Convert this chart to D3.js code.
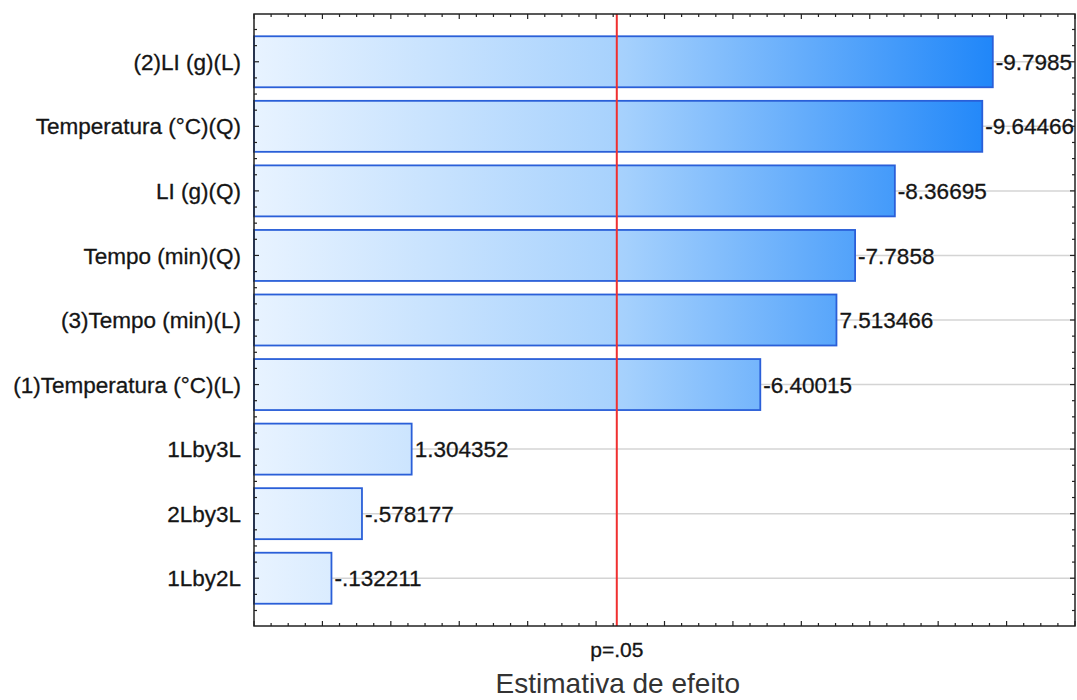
<!DOCTYPE html>
<html><head><meta charset="utf-8">
<script src="https://cdn.jsdelivr.net/npm/d3@7"></script>
<style>body{margin:0;background:#fff}svg{display:block}</style>
</head><body>
<svg id="chart" width="1077" height="700"></svg>
<script>
const categories = ["(2)LI (g)(L)","Temperatura (°C)(Q)","LI (g)(Q)","Tempo (min)(Q)","(3)Tempo (min)(L)","(1)Temperatura (°C)(L)","1Lby3L","2Lby3L","1Lby2L"];
const effects = [-9.7985,-9.64466,-8.36695,-7.7858,7.513466,-6.40015,1.304352,-0.578177,-0.132211];
const effectLabels = ["-9.7985","-9.64466","-8.36695","-7.7858","7.513466","-6.40015","1.304352","-.578177","-.132211"];
const pValueLine = 4.302653;
const pLabel = "p=.05";
const xTitle = "Estimativa de efeito";

const svg = d3.select("#chart");
const L = 254, R = 1075, T = 14, B = 626;
const FONT = "Liberation Sans, Arial, sans-serif";
const x = d3.scaleLinear().domain([-1, 11]).range([L, R]);
const y = d3.scaleLinear().domain([-0.74, categories.length - 0.26]).range([T, B]);
const bh = 0.79 * (y(1) - y(0));

const defs = svg.append("defs");
const grad = defs.append("linearGradient").attr("id","g").attr("gradientUnits","userSpaceOnUse")
  .attr("x1", L).attr("x2", R).attr("y1",0).attr("y2",0);
grad.append("stop").attr("offset","0").attr("stop-color","#e8f3ff");
grad.append("stop").attr("offset","0.45").attr("stop-color","#a6d1fd");
grad.append("stop").attr("offset","1").attr("stop-color","#0276f8");

// grid lines
svg.append("g").selectAll("line").data(categories).join("line")
  .attr("x1", L).attr("x2", R).attr("y1", (d,i)=>y(i)).attr("y2",(d,i)=>y(i))
  .attr("stroke","#d4d4d4").attr("stroke-width",1.5);

// bars
svg.append("g").selectAll("rect").data(effects).join("rect")
  .attr("x", x(-1)).attr("y",(d,i)=>y(i)-bh/2)
  .attr("width", d=>x(Math.abs(d)) - x(-1)).attr("height", bh)
  .attr("fill","url(#g)").attr("stroke","#2a5fd8").attr("stroke-width",1.8);

// value labels
svg.append("g").selectAll("text").data(effects).join("text")
  .attr("x", d=>x(Math.abs(d))+3).attr("y",(d,i)=>y(i))
  .attr("dy","0.36em").attr("font-family",FONT)
  .attr("font-size",22.5).attr("fill","#151515").attr("stroke","#151515").attr("stroke-width",0.3)
  .text((d,i)=>effectLabels[i]);

// p line
svg.append("line").attr("x1",x(pValueLine)).attr("x2",x(pValueLine)).attr("y1",T).attr("y2",B)
  .attr("stroke","#f03030").attr("stroke-width",2);

// axes (ticks inward)
const minor = d3.range(-1, 11.001, 0.25);
const major = d3.range(-1, 11.001, 1);
const isMajor = d => major.some(m=>Math.abs(m-d)<1e-9);
const ax = svg.append("g").attr("stroke","#222");
ax.selectAll(".bt").data(minor).join("line").attr("x1",d=>x(d)).attr("x2",d=>x(d))
  .attr("y1",B).attr("y2",d=>B-(isMajor(d)?5:3)).attr("stroke-width",1.2);
ax.selectAll(".tt").data(minor).join("line").attr("x1",d=>x(d)).attr("x2",d=>x(d))
  .attr("y1",T).attr("y2",d=>T+(isMajor(d)?5:3)).attr("stroke-width",1.2);
const yminor = d3.range(-0.75, categories.length - 0.25 + 0.001, 0.25).filter(v=>y(v)>=T-0.5 && y(v)<=B+0.5);
ax.selectAll(".lt").data(yminor).join("line").attr("y1",d=>y(d)).attr("y2",d=>y(d))
  .attr("x1",L).attr("x2",d=>L+(Number.isInteger(d)?5:3)).attr("stroke-width",1.2);
ax.selectAll(".rt").data(yminor).join("line").attr("y1",d=>y(d)).attr("y2",d=>y(d))
  .attr("x1",R).attr("x2",d=>R-(Number.isInteger(d)?5:3)).attr("stroke-width",1.2);
svg.append("rect").attr("x",L).attr("y",T).attr("width",R-L).attr("height",B-T)
  .attr("fill","none").attr("stroke","#222").attr("stroke-width",1.5);

// category labels
svg.append("g").selectAll("text").data(categories).join("text")
  .attr("x", 241).attr("y",(d,i)=>y(i)).attr("dy","0.36em").attr("text-anchor","end")
  .attr("font-family",FONT).attr("font-size",22.5).attr("fill","#151515").attr("stroke","#151515").attr("stroke-width",0.3)
  .text(d=>d);

svg.append("text").attr("x",x(pValueLine)).attr("y",657).attr("text-anchor","middle")
  .attr("font-family",FONT).attr("font-size",21).attr("fill","#151515").attr("stroke","#151515").attr("stroke-width",0.3).text(pLabel);
svg.append("text").attr("x",x(pValueLine)+1).attr("y",693).attr("text-anchor","middle")
  .attr("font-family",FONT).attr("font-size",28).attr("fill","#333").text(xTitle);
</script>
</body></html>
